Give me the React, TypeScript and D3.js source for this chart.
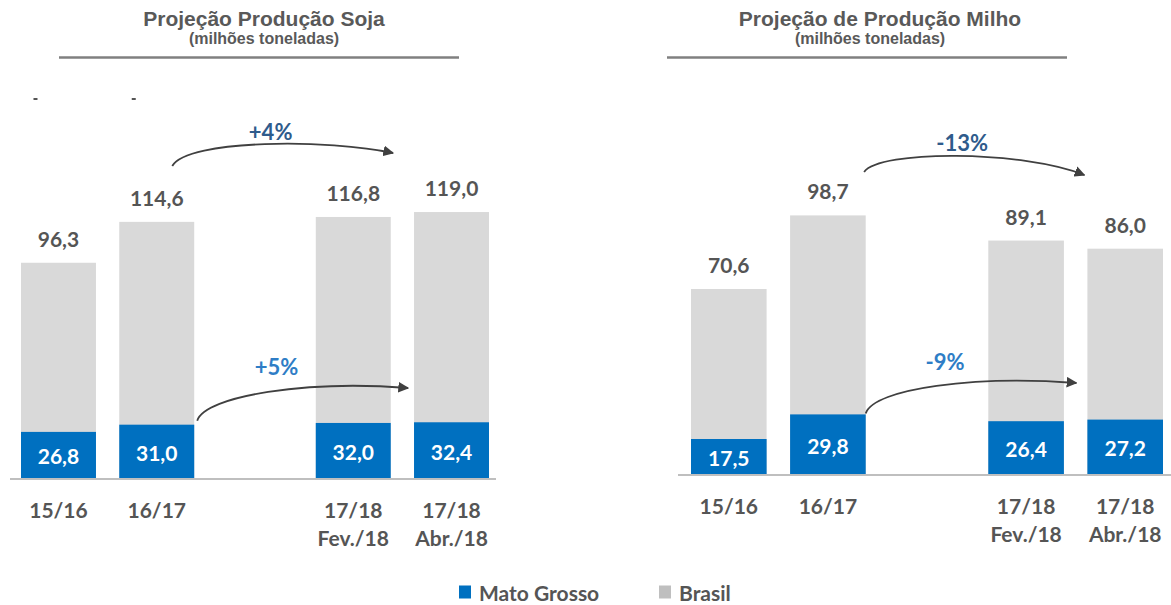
import React from "react";
import * as d3 from "d3";

// ---------- data ----------
const slots = ["15/16", "16/17", "gap", "17/18 Fev", "17/18 Abr"];
const seasonKeys = ["15/16", "16/17", "17/18 Fev", "17/18 Abr"];
const labelLine1 = ["15/16", "16/17", "17/18", "17/18"];
const labelLine2 = ["", "", "Fev./18", "Abr./18"];

const sojaBrasil = [96.3, 114.6, 116.8, 119.0];
const sojaMatoGrosso = [26.8, 31.0, 32.0, 32.4];
const milhoBrasil = [70.6, 98.7, 89.1, 86.0];
const milhoMatoGrosso = [17.5, 29.8, 26.4, 27.2];

const sojaChange = ["+4%", "+5%"]; // [Brasil, Mato Grosso]
const milhoChange = ["-13%", "-9%"];

const legendLabels = ["Mato Grosso", "Brasil"];

const sojaTitle = "Projeção Produção Soja";
const milhoTitle = "Projeção de Produção Milho";
const subtitle = "(milhões toneladas)";

// ---------- styles ----------
const BLUE = "#0070C0";
const GRAY = "#D9D9D9";
const TEXT = "#555555";
const LABEL_FONT = "Lato, 'Open Sans', sans-serif";
const TITLE_FONT = "'Liberation Sans', Arial, sans-serif";

const fmt = d3
  .formatLocale({ decimal: ",", thousands: ".", grouping: [3], currency: ["R$", ""] })
  .format(".1f");

type Layout = {
  xRange: [number, number];
  base: number;
  totalTop: number;
  mtTop: number;
  titleX: number;
  subX: number;
  sep: [number, number];
  axis: [number, number];
  line1Y: number;
  line2Y: number;
  topArrow: { x0Off: number; y0: number; x1Off: number; y1: number; peak: number };
  botArrow: { x0Off: number; y0Off: number; x1Off: number; y1: number };
  ticks: boolean;
};

const sojaLayout: Layout = {
  xRange: [21, 489],
  base: 478,
  totalTop: 478 - 223.5,
  mtTop: 478 - 86,
  titleX: 264,
  subX: 264,
  sep: [59, 459],
  axis: [10, 496],
  line1Y: 518,
  line2Y: 546,
  topArrow: { x0Off: 53, y0: 166, x1Off: -21, y1: 153, peak: 139 },
  botArrow: { x0Off: 3, y0Off: -4, x1Off: -6, y1: 388 },
  ticks: true,
};

const milhoLayout: Layout = {
  xRange: [691, 1163],
  base: 474,
  totalTop: 474 - 262,
  mtTop: 474 - 100,
  titleX: 880,
  subX: 870,
  sep: [667, 1067],
  axis: [678, 1171],
  line1Y: 514,
  line2Y: 542,
  topArrow: { x0Off: 74, y0: 172, x1Off: -3, y1: 175, peak: 150 },
  botArrow: { x0Off: 0, y0Off: -1, x1Off: -11, y1: 383 },
  ticks: false,
};

function Panel({
  title,
  brasil,
  mt,
  change,
  L,
  id,
}: {
  title: string;
  brasil: number[];
  mt: number[];
  change: string[];
  L: Layout;
  id: string;
}) {
  const x = d3.scaleBand<string>().domain(slots).range(L.xRange).paddingInner(0.237).paddingOuter(0);
  const bw = x.bandwidth();
  const yTotal = d3.scaleLinear().domain([0, 100]).range([L.base, L.totalTop]);
  const yMT = d3.scaleLinear().domain([0, 50]).range([L.base, L.mtTop]);

  const k2 = seasonKeys[1];
  const k4 = seasonKeys[3];
  const ta = L.topArrow;
  const tx0 = (x(k2) as number) + ta.x0Off;
  const tx1 = (x(k4) as number) + ta.x1Off;
  const topPath = `M${tx0},${ta.y0} C${tx0 + 15},${ta.peak} ${tx1 - 63},${ta.peak} ${tx1},${ta.y1}`;

  const ba = L.botArrow;
  const bx0 = (x(k2) as number) + bw + ba.x0Off;
  const by0 = yMT(mt[1]) + ba.y0Off;
  const bx1 = (x(k4) as number) + ba.x1Off;
  const botPath = `M${bx0},${by0} C${bx0 + 8},${by0 - 25} ${bx1 - 100},${ba.y1 - 8} ${bx1},${ba.y1}`;

  return (
    <g>
      <defs>
        <marker
          id={`arrow-${id}`}
          viewBox="0 0 10 10"
          refX="9"
          refY="5"
          markerWidth="6"
          markerHeight="6"
          markerUnits="strokeWidth"
          orient="auto"
        >
          <path d="M0,0 L10,5 L0,10 z" fill="#404040" />
        </marker>
      </defs>

      {/* title */}
      <text x={L.titleX} y={26} textAnchor="middle" fontFamily={TITLE_FONT} fontWeight="bold" fontSize={21} fill="#595959">
        {title}
      </text>
      <text x={L.subX} y={44} textAnchor="middle" fontFamily={TITLE_FONT} fontWeight="bold" fontSize={16} fill="#595959">
        {subtitle}
      </text>
      <line x1={L.sep[0]} x2={L.sep[1]} y1={57.5} y2={57.5} stroke="#808080" strokeWidth={2.5} />

      {L.ticks &&
        seasonKeys.slice(0, 2).map((k) => (
          <rect key={k} x={(x(k) as number) + bw / 2 - 25} y={98} width={4} height={2} fill="#555" />
        ))}

      {/* bars */}
      {seasonKeys.map((k, i) => (
        <g key={k}>
          <rect x={x(k)} y={yTotal(brasil[i])} width={bw} height={L.base - yTotal(brasil[i])} fill={GRAY} />
          <rect x={x(k)} y={yMT(mt[i])} width={bw} height={L.base - yMT(mt[i])} fill={BLUE} />
          <text
            x={(x(k) as number) + bw / 2}
            y={yTotal(brasil[i]) - 16}
            textAnchor="middle"
            fontFamily={LABEL_FONT}
            fontWeight="bold"
            fontSize={21}
            fill={TEXT}
          >
            {fmt(brasil[i])}
          </text>
          <text
            x={(x(k) as number) + bw / 2}
            y={(yMT(mt[i]) + L.base) / 2 + 1}
            dominantBaseline="central"
            textAnchor="middle"
            fontFamily={LABEL_FONT}
            fontWeight="bold"
            fontSize={21}
            fill="#ffffff"
          >
            {fmt(mt[i])}
          </text>
          <text x={(x(k) as number) + bw / 2} y={L.line1Y} textAnchor="middle" fontFamily={LABEL_FONT} fontWeight="bold" fontSize={21} fill={TEXT}>
            {labelLine1[i]}
          </text>
          {labelLine2[i] && (
            <text x={(x(k) as number) + bw / 2} y={L.line2Y} textAnchor="middle" fontFamily={LABEL_FONT} fontWeight="bold" fontSize={21} fill={TEXT}>
              {labelLine2[i]}
            </text>
          )}
        </g>
      ))}

      {/* baseline */}
      <line x1={L.axis[0]} x2={L.axis[1]} y1={L.base + 1} y2={L.base + 1} stroke="#BFBFBF" strokeWidth={2} />

      {/* arrows */}
      <path d={topPath} fill="none" stroke="#404040" strokeWidth={1.8} markerEnd={`url(#arrow-${id})`} />
      <text
        x={(tx0 + tx1) / 2 - 12}
        y={ta.peak - 8}
        dominantBaseline="central"
        textAnchor="middle"
        fontFamily={LABEL_FONT}
        fontWeight="bold"
        fontSize={22}
        fill="#2F5B8C"
      >
        {change[0]}
      </text>
      <path d={botPath} fill="none" stroke="#404040" strokeWidth={1.8} markerEnd={`url(#arrow-${id})`} />
      <text
        x={(bx0 + bx1) / 2 - 26}
        y={ba.y1 - 22}
        dominantBaseline="central"
        textAnchor="middle"
        fontFamily={LABEL_FONT}
        fontWeight="bold"
        fontSize={22}
        fill="#2E7DC6"
      >
        {change[1]}
      </text>
    </g>
  );
}

export default function App() {
  const legendColors = [BLUE, "#BFBFBF"];
  const legendX = [459, 659];
  return (
    <svg
      width={1171}
      height={605}
      style={{ position: "absolute", left: 0, top: 0, background: "#ffffff" }}
    >
      <rect width={1171} height={605} fill="#ffffff" />
      <Panel title={sojaTitle} brasil={sojaBrasil} mt={sojaMatoGrosso} change={sojaChange} L={sojaLayout} id="soja" />
      <Panel title={milhoTitle} brasil={milhoBrasil} mt={milhoMatoGrosso} change={milhoChange} L={milhoLayout} id="milho" />
      {legendLabels.map((lab, i) => (
        <g key={lab} transform={`translate(${legendX[i]},592)`}>
          <rect x={0} y={-6.5} width={12} height={13} fill={legendColors[i]} />
          <text x={20} y={0} dominantBaseline="central" fontFamily={LABEL_FONT} fontWeight="bold" fontSize={21} fill={TEXT}>
            {lab}
          </text>
        </g>
      ))}
    </svg>
  );
}
